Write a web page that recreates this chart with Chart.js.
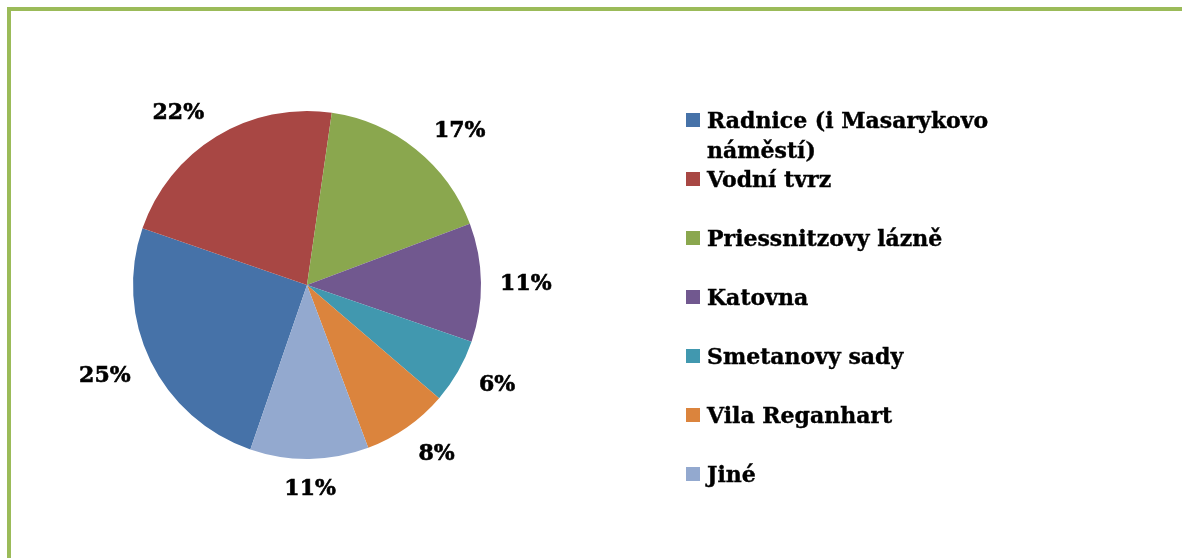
<!DOCTYPE html>
<html>
<head>
<meta charset="utf-8">
<script src="https://cdn.jsdelivr.net/npm/chart.js@4.4.1/dist/chart.umd.min.js"></script>
<style>
  html, body { margin: 0; padding: 0; background: #fff; }
  #wrap { position: relative; width: 1182px; height: 558px; overflow: hidden; }
  #frame { position: absolute; left: 7px; top: 7px; width: 1200px; height: 600px;
           border-left: 4px solid #9BBB59; border-top: 4px solid #9BBB59; }
  #chart { position: absolute; left: 0; top: 0; }
  #legend { position: absolute; left: 686px; top: 0; width: 340px;
            font: bold 22px "DejaVu Serif", serif; color: #000;
            -webkit-text-stroke: 0.4px #000; }
  .item { position: absolute; left: 0; width: 310px; line-height: 30px; }
  .box { position: absolute; left: 0; top: 8px; width: 14px; height: 14px; }
  .txt { margin-left: 21px; }
</style>
</head>
<body>
<div id="wrap">
  <div id="frame"></div>
  <canvas id="chart" width="1182" height="558"></canvas>
  <div id="legend"></div>
</div>
<script>
const labels = ['Radnice (i Masarykovo náměstí)', 'Vodní tvrz', 'Priessnitzovy lázně', 'Katovna', 'Smetanovy sady', 'Vila Reganhart', 'Jiné'];
const shares = [25, 22, 17, 11, 6, 8, 11];
const colors = ['#4672A8', '#A84744', '#8AA74E', '#71588F', '#4198AF', '#DB843D', '#93A9CF'];

// legend (html so the first entry can wrap like in the original)
const legend = document.getElementById('legend');
labels.forEach((name, i) => {
    const item = document.createElement('div');
    item.className = 'item';
    item.style.top = (105 + i * 59) + 'px';
    item.innerHTML = '<span class="box" style="background:' + colors[i] + '"></span><div class="txt">' + name + '</div>';
    legend.appendChild(item);
});

const pctLabels = {
    id: 'pctLabels',
    afterDatasetsDraw(chart) {
        const ctx = chart.ctx;
        const meta = chart.getDatasetMeta(0);
        const total = shares.reduce((a, b) => a + b, 0);
        ctx.save();
        ctx.font = 'bold 22px "DejaVu Serif", serif';
        ctx.fillStyle = '#000';
        ctx.strokeStyle = '#000';
        ctx.lineWidth = 0.6;
        ctx.textAlign = 'center';
        ctx.textBaseline = 'middle';
        meta.data.forEach((arc, i) => {
            const p = arc.getProps(['x', 'y', 'startAngle', 'endAngle', 'outerRadius'], true);
            let mid = (p.startAngle + p.endAngle) / 2;
            // push labels a bit away from the vertical axis, like Excel's best fit
            const k = Math.sin(mid) < 0 ? 0.2 : 0.1;
            mid -= k * Math.cos(mid) * Math.sin(mid);
            const text = Math.round(shares[i] / total * 100) + '%';
            const hw = ctx.measureText(text).width / 2 + 2;
            const hh = 11;
            // keep the label box a fixed gap away from the rim
            const ext = hw * Math.abs(Math.cos(mid)) + hh * Math.abs(Math.sin(mid));
            const d = p.outerRadius + 17 + ext;
            const x = p.x + Math.cos(mid) * d, y = p.y + Math.sin(mid) * d + 2;
            ctx.fillText(text, x, y);
            ctx.strokeText(text, x, y);
        });
        ctx.restore();
    }
};

new Chart(document.getElementById('chart'), {
    type: 'pie',
    data: {
        labels: labels,
        datasets: [{
            data: shares,
            backgroundColor: colors,
            borderWidth: 0
        }]
    },
    options: {
        responsive: false,
        animation: false,
        rotation: 199,
        layout: { padding: { left: 133, right: 701, top: 111, bottom: 99 } },
        plugins: {
            legend: { display: false },
            tooltip: { enabled: false }
        }
    },
    plugins: [pctLabels]
});
</script>
</body>
</html>
